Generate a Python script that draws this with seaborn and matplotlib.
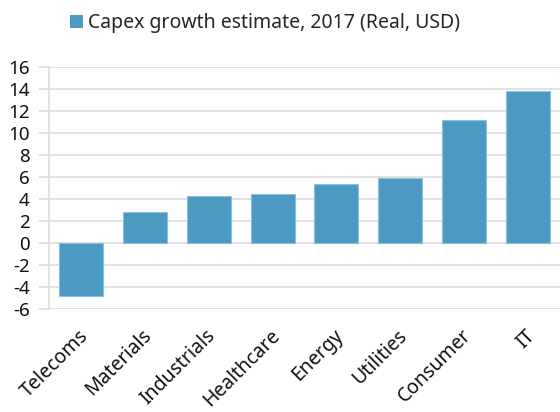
import matplotlib
matplotlib.use("Agg")
import matplotlib.pyplot as plt
import matplotlib.transforms as mtransforms
from matplotlib.patches import Patch
import seaborn as sns
import pandas as pd

sectors = ["Telecoms", "Materials", "Industrials", "Healthcare", "Energy",
           "Utilities", "Consumer", "IT"]
growth = [-4.8, 2.85, 4.25, 4.5, 5.4, 5.9, 11.2, 13.8]
series_name = "Capex growth estimate, 2017 (Real, USD)"
yticks = list(range(-6, 17, 2))

sns.set_theme(style="white")
plt.rcParams["font.family"] = ["Noto Sans", "DejaVu Sans"]

bar_color = "#4c9ac2"
grid_color = "#d9d9d9"

df = pd.DataFrame({"sector": sectors, "growth": growth})

fig = plt.figure(figsize=(5.6, 4.12), dpi=100)
ax = fig.add_axes([49 / 560, 1 - 309 / 412, 511 / 560, 242 / 412])

sns.barplot(data=df, x="sector", y="growth", color=bar_color, width=0.69,
            saturation=1, edgecolor="#8cc0dc", linewidth=0.8, ax=ax, zorder=3)

ax.set_ylim(-6, 16)
ax.set_yticks(yticks)
ax.set_yticklabels([str(v) for v in yticks], fontsize=13.5, color="#111111")
ax.set_xlim(-0.5, len(sectors) - 0.5)
ax.set_xlabel("")
ax.set_ylabel("")

ax.yaxis.grid(True, color=grid_color, linewidth=1.1, zorder=0)
ax.set_axisbelow(True)
ax.tick_params(axis="y", length=7, width=1.1, color=grid_color, pad=7, left=True)
ax.tick_params(axis="x", length=0, pad=12)
shift = mtransforms.ScaledTranslation(-3 / 100, 0, fig.dpi_scale_trans)
for lbl in ax.get_xticklabels():
    lbl.set_rotation(45)
    lbl.set_ha("right")
    lbl.set_rotation_mode("anchor")
    lbl.set_fontsize(14)
    lbl.set_color("#111111")
    lbl.set_transform(lbl.get_transform() + shift)

for side in ["top", "right", "bottom"]:
    ax.spines[side].set_visible(False)
ax.spines["left"].set_color(grid_color)
ax.spines["left"].set_linewidth(1.1)

handle = Patch(facecolor=bar_color, edgecolor="none")
fig.legend([handle], [series_name], loc="center", bbox_to_anchor=(0.473, 0.944),
           frameon=False, fontsize=14, handlelength=0.65, handleheight=0.65,
           handletextpad=0.25, borderaxespad=0)

fig.savefig("out.png", dpi=100)
